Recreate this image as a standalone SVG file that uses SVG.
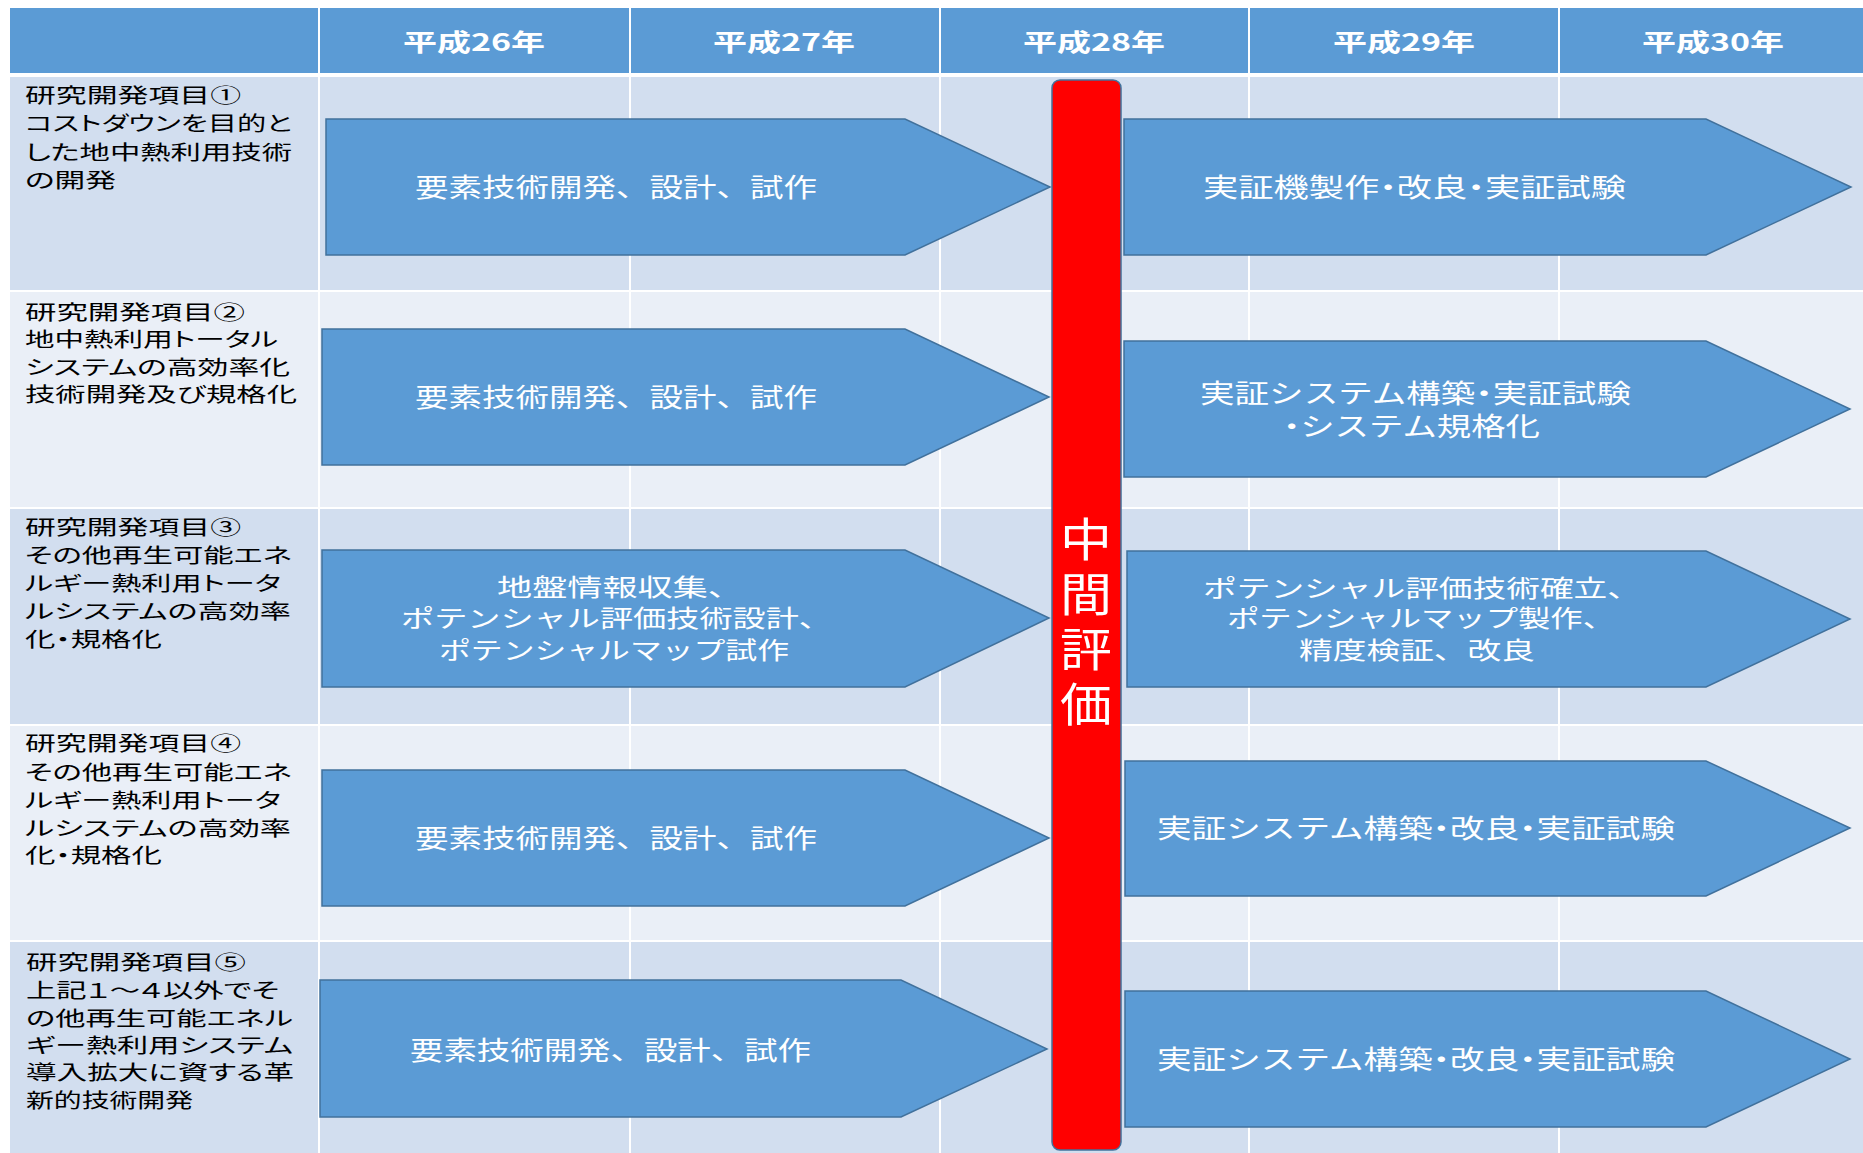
<svg xmlns="http://www.w3.org/2000/svg" width="1863" height="1153" viewBox="0 0 1863 1153">
<style>
.hd{font-family:"Noto Sans CJK JP","Noto Sans",sans-serif;font-weight:bold;font-size:24px;fill:#fff;text-anchor:middle}
.lc{font-family:"Noto Sans CJK JP","Noto Sans",sans-serif;font-size:20px;fill:#000;font-feature-settings:"palt"}
.at{font-family:"Noto Sans CJK JP","Noto Sans",sans-serif;font-size:26px;fill:#fff}
.at3{font-family:"Noto Sans CJK JP","Noto Sans",sans-serif;font-size:24px;fill:#fff}
.ev{font-family:"Noto Sans CJK JP","Noto Sans",sans-serif;font-size:46px;fill:#fff;writing-mode:vertical-rl;letter-spacing:9px}
.h{font-feature-settings:"halt"}
.arrow{fill:#5B9BD5;stroke:#41719C;stroke-width:1.5}
.b1{fill:#D2DEEF}
.b2{fill:#EAEFF7}
.grid{stroke:#fff;stroke-width:2;fill:none}
</style>
<rect width="1863" height="1153" fill="#fff"/>
<g id="table">
<rect x="10" y="8" width="1853" height="67" fill="#5B9BD5"/>
<rect class="b1" x="10" y="75" width="1853" height="216"/>
<rect class="b2" x="10" y="291" width="1853" height="217"/>
<rect class="b1" x="10" y="508" width="1853" height="217"/>
<rect class="b2" x="10" y="725" width="1853" height="216"/>
<rect class="b1" x="10" y="941" width="1853" height="212"/>
<g class="grid">
<line x1="319" y1="8" x2="319" y2="1153"/>
<line x1="630" y1="8" x2="630" y2="1153"/>
<line x1="940" y1="8" x2="940" y2="1153"/>
<line x1="1249" y1="8" x2="1249" y2="1153"/>
<line x1="1559" y1="8" x2="1559" y2="1153"/>
<line x1="10" y1="75" x2="1863" y2="75" stroke-width="4"/>
<line x1="10" y1="291" x2="1863" y2="291"/>
<line x1="10" y1="508" x2="1863" y2="508"/>
<line x1="10" y1="725" x2="1863" y2="725"/>
<line x1="10" y1="941" x2="1863" y2="941"/>
</g>
</g>
<g id="header">
<text class="hd" x="474" y="51" textLength="142" lengthAdjust="spacingAndGlyphs">平成26年</text>
<text class="hd" x="784" y="51" textLength="142" lengthAdjust="spacingAndGlyphs">平成27年</text>
<text class="hd" x="1094" y="51" textLength="142" lengthAdjust="spacingAndGlyphs">平成28年</text>
<text class="hd" x="1404" y="51" textLength="142" lengthAdjust="spacingAndGlyphs">平成29年</text>
<text class="hd" x="1713" y="51" textLength="142" lengthAdjust="spacingAndGlyphs">平成30年</text>
</g>
<g id="item1">
<text class="lc" x="25" y="103" textLength="216" lengthAdjust="spacingAndGlyphs">研究開発項目①</text>
<text class="lc" x="25" y="131" textLength="267" lengthAdjust="spacingAndGlyphs">コストダウンを目的と</text>
<text class="lc" x="25" y="160" textLength="267" lengthAdjust="spacingAndGlyphs">した地中熱利用技術</text>
<text class="lc" x="25" y="188" textLength="91" lengthAdjust="spacingAndGlyphs">の開発</text>
</g>
<g id="item2">
<text class="lc" x="25" y="320" textLength="220" lengthAdjust="spacingAndGlyphs">研究開発項目②</text>
<text class="lc" x="25" y="347" textLength="253" lengthAdjust="spacingAndGlyphs">地中熱利用トータル</text>
<text class="lc" x="25" y="375" textLength="265" lengthAdjust="spacingAndGlyphs">システムの高効率化</text>
<text class="lc" x="25" y="402" textLength="272" lengthAdjust="spacingAndGlyphs">技術開発及び規格化</text>
</g>
<g id="item3">
<text class="lc" x="25" y="535" textLength="216" lengthAdjust="spacingAndGlyphs">研究開発項目③</text>
<text class="lc" x="25" y="563" textLength="267" lengthAdjust="spacingAndGlyphs">その他再生可能エネ</text>
<text class="lc" x="25" y="591" textLength="256" lengthAdjust="spacingAndGlyphs">ルギー熱利用トータ</text>
<text class="lc" x="25" y="619" textLength="266" lengthAdjust="spacingAndGlyphs">ルシステムの高効率</text>
<text class="lc" x="25" y="647" textLength="137" lengthAdjust="spacingAndGlyphs">化・規格化</text>
</g>
<g id="item4">
<text class="lc" x="25" y="751" textLength="216" lengthAdjust="spacingAndGlyphs">研究開発項目④</text>
<text class="lc" x="25" y="780" textLength="267" lengthAdjust="spacingAndGlyphs">その他再生可能エネ</text>
<text class="lc" x="25" y="808" textLength="256" lengthAdjust="spacingAndGlyphs">ルギー熱利用トータ</text>
<text class="lc" x="25" y="836" textLength="266" lengthAdjust="spacingAndGlyphs">ルシステムの高効率</text>
<text class="lc" x="25" y="863" textLength="137" lengthAdjust="spacingAndGlyphs">化・規格化</text>
</g>
<g id="item5">
<text class="lc" x="26" y="970" textLength="220" lengthAdjust="spacingAndGlyphs">研究開発項目⑤</text>
<text class="lc" x="26" y="998" textLength="253" lengthAdjust="spacingAndGlyphs">上記１～４以外でそ</text>
<text class="lc" x="26" y="1026" textLength="267" lengthAdjust="spacingAndGlyphs">の他再生可能エネル</text>
<text class="lc" x="26" y="1053" textLength="267" lengthAdjust="spacingAndGlyphs">ギー熱利用システム</text>
<text class="lc" x="26" y="1080" textLength="268" lengthAdjust="spacingAndGlyphs">導入拡大に資する革</text>
<text class="lc" x="26" y="1108" textLength="167" lengthAdjust="spacingAndGlyphs">新的技術開発</text>
</g>
<g id="phase1-1">
<polygon class="arrow" points="326,119 905,119 1050,187 905,255 326,255"/>
<text class="at" x="415" y="197" textLength="402" lengthAdjust="spacingAndGlyphs">要素技術開発、設計、試作</text>
</g>
<g id="phase2-1">
<polygon class="arrow" points="1124,119 1706,119 1851,187 1706,255 1124,255"/>
<text class="at" x="1203" y="197" textLength="423" lengthAdjust="spacingAndGlyphs">実証機製作<tspan class="h">・</tspan>改良<tspan class="h">・</tspan>実証試験</text>
</g>
<g id="phase1-2">
<polygon class="arrow" points="322,329 905,329 1049,397 905,465 322,465"/>
<text class="at" x="415" y="407" textLength="402" lengthAdjust="spacingAndGlyphs">要素技術開発、設計、試作</text>
</g>
<g id="phase2-2">
<polygon class="arrow" points="1124,341 1706,341 1850,409 1706,477 1124,477"/>
<text class="at"><tspan x="1200" y="403" textLength="431" lengthAdjust="spacingAndGlyphs">実証システム構築<tspan class="h">・</tspan>実証試験</tspan><tspan x="1283" y="436" textLength="257" lengthAdjust="spacingAndGlyphs"><tspan class="h">・</tspan>システム規格化</tspan></text>
</g>
<g id="phase1-3">
<polygon class="arrow" points="322,550 905,550 1049,618 905,687 322,687"/>
<text class="at3"><tspan x="497" y="596" textLength="246" lengthAdjust="spacingAndGlyphs">地盤情報収集、</tspan><tspan x="401" y="627" textLength="431" lengthAdjust="spacingAndGlyphs">ポテンシャル評価技術設計、</tspan><tspan x="439" y="659" textLength="350" lengthAdjust="spacingAndGlyphs">ポテンシャルマップ試作</tspan></text>
</g>
<g id="phase2-3">
<polygon class="arrow" points="1127,551 1706,551 1850,619 1706,687 1127,687"/>
<text class="at3"><tspan x="1203" y="597" textLength="438" lengthAdjust="spacingAndGlyphs">ポテンシャル評価技術確立、</tspan><tspan x="1227" y="627" textLength="388" lengthAdjust="spacingAndGlyphs">ポテンシャルマップ製作、</tspan><tspan x="1299" y="659" textLength="236" lengthAdjust="spacingAndGlyphs">精度検証、改良</tspan></text>
</g>
<g id="phase1-4">
<polygon class="arrow" points="322,770 905,770 1049,838 905,906 322,906"/>
<text class="at" x="415" y="848" textLength="402" lengthAdjust="spacingAndGlyphs">要素技術開発、設計、試作</text>
</g>
<g id="phase2-4">
<polygon class="arrow" points="1125,761 1706,761 1850,828 1706,896 1125,896"/>
<text class="at" x="1157" y="838" textLength="518" lengthAdjust="spacingAndGlyphs">実証システム構築<tspan class="h">・</tspan>改良<tspan class="h">・</tspan>実証試験</text>
</g>
<g id="phase1-5">
<polygon class="arrow" points="320,980 901,980 1047,1049 901,1117 320,1117"/>
<text class="at" x="410" y="1060" textLength="401" lengthAdjust="spacingAndGlyphs">要素技術開発、設計、試作</text>
</g>
<g id="phase2-5">
<polygon class="arrow" points="1125,991 1706,991 1850,1059 1706,1127 1125,1127"/>
<text class="at" x="1157" y="1069" textLength="518" lengthAdjust="spacingAndGlyphs">実証システム構築<tspan class="h">・</tspan>改良<tspan class="h">・</tspan>実証試験</text>
</g>
<g id="midterm">
<rect x="1052" y="80" width="69" height="1070" rx="8" fill="#FF0000" stroke="#41719C" stroke-width="1.5"/>
<g transform="translate(1086,0) scale(1.13,1) translate(-1086,0)">
<text class="ev" x="1086" y="516">中間評価</text>
</g>
</g>
</svg>
